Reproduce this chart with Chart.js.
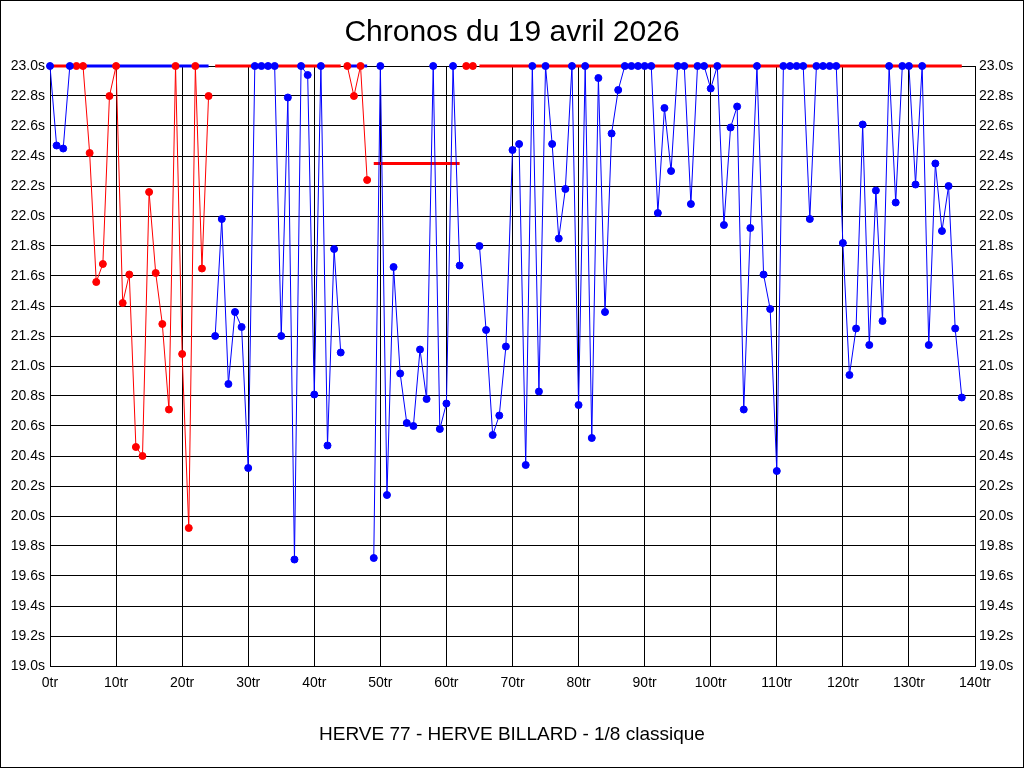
<!DOCTYPE html>
<html>
<head>
<meta charset="utf-8">
<script src="https://cdn.jsdelivr.net/npm/chart.js@4.4.1/dist/chart.umd.min.js"></script>
<style>
  html, body { margin: 0; padding: 0; background: #ffffff; }
  #wrap { width: 1024px; height: 768px; position: relative; }
</style>
</head>
<body>
<div id="wrap"><canvas id="c" width="1024" height="768"></canvas></div>
<script>
// ---- Data ----
const chartTitle = "Chronos du 19 avril 2026";
const chartCaption = "HERVE 77 - HERVE BILLARD - 1/8 classique";

// Time (seconds) for each lap ("tr"), lap index = position (0 .. 138); 23.0 = capped
const times = [
  23.0, 22.47, 22.45, 23.0, 23.0, 23.0, 22.42, 21.56, 21.68, 22.80,   // 0-9
  23.0, 21.42, 21.61, 20.46, 20.40, 22.16, 21.62, 21.28, 20.71, 23.0,  // 10-19
  21.08, 19.92, 23.0, 21.65, 22.80, 21.20, 21.98, 20.88, 21.36, 21.26, // 20-29
  20.32, 23.0, 23.0, 23.0, 23.0, 21.20, 22.79, 19.71, 23.0, 22.94,     // 30-39
  20.81, 23.0, 20.47, 21.78, 21.09, 23.0, 22.80, 23.0, 22.24, 19.72,   // 40-49
  23.0, 20.14, 21.66, 20.95, 20.62, 20.60, 21.11, 20.78, 23.0, 20.58,  // 50-59
  20.75, 23.0, 21.67, 23.0, 23.0, 21.80, 21.24, 20.54, 20.67, 21.13,   // 60-69
  22.44, 22.48, 20.34, 23.0, 20.83, 23.0, 22.48, 21.85, 22.18, 23.0,   // 70-79
  20.74, 23.0, 20.52, 22.92, 21.36, 22.55, 22.84, 23.0, 23.0, 23.0,    // 80-89
  23.0, 23.0, 22.02, 22.72, 22.30, 23.0, 23.0, 22.08, 23.0, 23.0,      // 90-99
  22.85, 23.0, 21.94, 22.59, 22.73, 20.71, 21.92, 23.0, 21.61, 21.38,  // 100-109
  20.30, 23.0, 23.0, 23.0, 23.0, 21.98, 23.0, 23.0, 23.0, 23.0,        // 110-119
  21.82, 20.94, 21.25, 22.61, 21.14, 22.17, 21.30, 23.0, 22.09, 23.0,  // 120-129
  23.0, 22.21, 23.0, 21.14, 22.35, 21.90, 22.20, 21.25, 20.79          // 130-138
];

// Runs of laps ("innings"): first lap, last lap, which series (player), and the
// level of the marker bar drawn for that run
const runStart  = [0, 4, 25, 45, 49, 63, 65];
const runEnd    = [3, 24, 44, 48, 62, 64, 138];
const runPlayer = ["B", "R", "B", "R", "B", "R", "B"];
const runMark   = [23.0, 23.0, 23.0, 23.0, 22.35, 23.0, 23.0];

// Axis tick settings
const xMin = 0, xMax = 140, xStep = 10, xSuffix = "tr";
const yMin = 19.0, yMax = 23.0, yStep = 0.2, ySuffix = "s";

// ---- Styling ----
const COLORS = { B: "#0000ff", R: "#ff0000" };
const OTHER = { B: "R", R: "B" };
const FONT = "'Liberation Sans', Arial, sans-serif";

const datasets = [];
for (let k = 0; k < runStart.length; k++) {
  const pts = [];
  for (let lap = runStart[k]; lap <= runEnd[k]; lap++) pts.push({ x: lap, y: times[lap] });
  datasets.push({
    data: pts,
    borderColor: COLORS[runPlayer[k]],
    backgroundColor: COLORS[runPlayer[k]],
    borderWidth: 1,
    pointRadius: 3.5,
    pointBorderWidth: 1,
    pointHoverRadius: 3.5,
    tension: 0,
    clip: false,
    order: 1
  });
  const barColor = COLORS[OTHER[runPlayer[k]]];
  datasets.push({
    data: [{ x: runStart[k], y: runMark[k] }, { x: runEnd[k], y: runMark[k] }],
    borderColor: barColor,
    backgroundColor: barColor,
    borderWidth: 3,
    pointRadius: 0,
    borderCapStyle: "butt",
    clip: false,
    order: 2
  });
}

const textPlugin = {
  id: "texts",
  afterDraw(chart) {
    const ctx = chart.ctx;
    ctx.save();
    ctx.fillStyle = "#000";
    ctx.textAlign = "center";
    ctx.textBaseline = "middle";
    ctx.font = "30px " + FONT;
    ctx.fillText(chartTitle, 512, 33);
    ctx.font = "19px " + FONT;
    ctx.fillText(chartCaption, 512, 735);
    ctx.strokeStyle = "#000";
    ctx.lineWidth = 1;
    ctx.strokeRect(0.5, 0.5, 1023, 767);
    ctx.restore();
  }
};

const bgPlugin = {
  id: "bg",
  beforeDraw(chart) {
    const ctx = chart.ctx;
    ctx.save();
    ctx.fillStyle = "#fff";
    ctx.fillRect(0, 0, chart.width, chart.height);
    ctx.restore();
  }
};

const tickFont = { family: FONT, size: 14 };

new Chart(document.getElementById("c"), {
  type: "line",
  data: { datasets },
  options: {
    responsive: false,
    animation: false,
    events: [],
    layout: { padding: { top: 66, left: 0, right: 0, bottom: 0 } },
    plugins: { legend: { display: false }, tooltip: { enabled: false }, title: { display: false } },
    scales: {
      x: {
        type: "linear",
        min: xMin, max: xMax,
        ticks: { stepSize: xStep, color: "#000", font: tickFont, padding: 9, maxRotation: 0,
                 callback: v => v + xSuffix },
        grid: { color: "#000", lineWidth: 1, drawTicks: false },
        border: { color: "#000", width: 1 },
        afterFit: s => { s.height = 102; }
      },
      y: {
        type: "linear",
        position: "left",
        min: yMin, max: yMax,
        ticks: { stepSize: yStep, color: "#000", font: tickFont, padding: 5,
                 callback: v => v.toFixed(1) + ySuffix },
        grid: { color: "#000", lineWidth: 1, drawTicks: false },
        border: { color: "#000", width: 1 },
        afterFit: s => { s.width = 50; }
      },
      y2: {
        type: "linear",
        position: "right",
        min: yMin, max: yMax,
        ticks: { stepSize: yStep, color: "#000", font: tickFont, padding: 4,
                 callback: v => v.toFixed(1) + ySuffix },
        grid: { display: false, drawTicks: false },
        border: { color: "#000", width: 1 },
        afterFit: s => { s.width = 49; }
      }
    }
  },
  plugins: [bgPlugin, textPlugin]
});
</script>
</body>
</html>
